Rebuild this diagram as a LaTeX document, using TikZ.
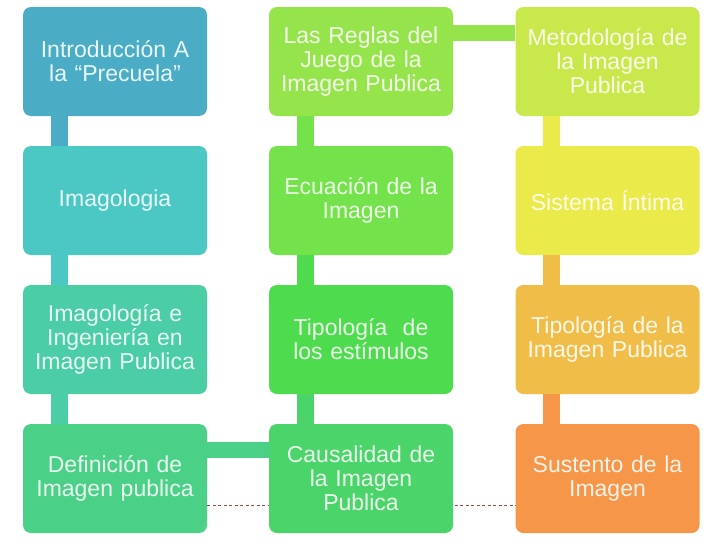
\documentclass[tikz,border=0pt]{standalone}
\usepackage{fontspec}
\setmainfont{Liberation Sans}
\definecolor{c11}{RGB}{75,172,198}
\definecolor{c12}{RGB}{75,200,195}
\definecolor{c13}{RGB}{75,205,165}
\definecolor{c14}{RGB}{75,208,135}
\definecolor{c24}{RGB}{75,212,105}
\definecolor{c23}{RGB}{78,220,78}
\definecolor{c22}{RGB}{115,226,75}
\definecolor{c21}{RGB}{150,228,75}
\definecolor{c31}{RGB}{200,232,75}
\definecolor{c32}{RGB}{234,234,75}
\definecolor{c33}{RGB}{240,190,72}
\definecolor{c34}{RGB}{245,150,72}
\definecolor{dashc}{RGB}{160,70,70}
\tikzset{
  box/.style={rectangle, rounded corners=8pt, minimum width=184pt, minimum height=109pt,
    inner sep=1pt, text width=182pt, align=center, text=white, text opacity=0.88,
    font=\fontsize{23pt}{24pt}\selectfont},
  bar/.style={line width=17pt},
  hbar/.style={line width=16pt},
}
\begin{document}
\begin{tikzpicture}[x=1pt,y=-1pt]
\useasboundingbox[fill=white] (0,0) rectangle (728,546);
% coordinates of box centres
\coordinate (p11) at (115,61.5);
\coordinate (p12) at (115,200.5);
\coordinate (p13) at (115,339.5);
\coordinate (p14) at (115,478.5);
\coordinate (p21) at (361,61.5);
\coordinate (p22) at (361,200.5);
\coordinate (p23) at (361,339.5);
\coordinate (p24) at (361,478.5);
\coordinate (p31) at (607.5,61.5);
\coordinate (p32) at (607.5,200.5);
\coordinate (p33) at (607.5,339.5);
\coordinate (p34) at (607.5,478.5);
% dashed line
\coordinate (dl) at (207,505);
\coordinate (dr) at (516,505);
\draw[dashc, line width=0.7pt, dash pattern=on 3pt off 2.5pt] (dl) -- (dr);
% boxes
\node[box, fill=c11] (b11) at (p11) {Introducción A\\la “Precuela”};
\node[box, fill=c12] (b12) at (p12) {Imagologia};
\node[box, fill=c13] (b13) at (p13) {Imagología e\\Ingeniería en\\Imagen Publica};
\node[box, fill=c14] (b14) at (p14) {Definición de\\Imagen publica};
\node[box, fill=c21] (b21) at (p21) {Las Reglas del\\Juego de la\\Imagen Publica};
\node[box, fill=c22] (b22) at (p22) {Ecuación de la\\Imagen};
\node[box, fill=c23] (b23) at (p23) {Tipología~ de\\los estímulos};
\node[box, fill=c24] (b24) at (p24) {Causalidad de\\la Imagen\\Publica};
\node[box, fill=c31] (b31) at (p31) {Metodología de\\la Imagen\\Publica};
\node[box, fill=c32] (b32) at (p32) {Sistema Íntima};
\node[box, fill=c33] (b33) at (p33) {Tipología de la\\Imagen Publica};
\node[box, fill=c34] (b34) at (p34) {Sustento de la\\Imagen};
% connectors
\draw[bar, c11] ([xshift=36.5pt]b11.south west) -- ([xshift=36.5pt]b12.north west);
\draw[bar, c12] ([xshift=36.5pt]b12.south west) -- ([xshift=36.5pt]b13.north west);
\draw[bar, c13] ([xshift=36.5pt]b13.south west) -- ([xshift=36.5pt]b14.north west);
\draw[hbar, c14] ([yshift=-26pt]b14.north east) -- ([yshift=-26pt]b24.north west);
\draw[bar, c24] ([xshift=36.5pt]b24.north west) -- ([xshift=36.5pt]b23.south west);
\draw[bar, c23] ([xshift=36.5pt]b23.north west) -- ([xshift=36.5pt]b22.south west);
\draw[bar, c22] ([xshift=36.5pt]b22.north west) -- ([xshift=36.5pt]b21.south west);
\draw[hbar, c21] ([yshift=-26pt]b21.north east) -- ([yshift=-26pt]b31.north west);
\draw[bar, c32] ([xshift=36.5pt]b31.south west) -- ([xshift=36.5pt]b32.north west);
\draw[bar, c33] ([xshift=36.5pt]b32.south west) -- ([xshift=36.5pt]b33.north west);
\draw[bar, c34] ([xshift=36.5pt]b33.south west) -- ([xshift=36.5pt]b34.north west);
\end{tikzpicture}
\end{document}
